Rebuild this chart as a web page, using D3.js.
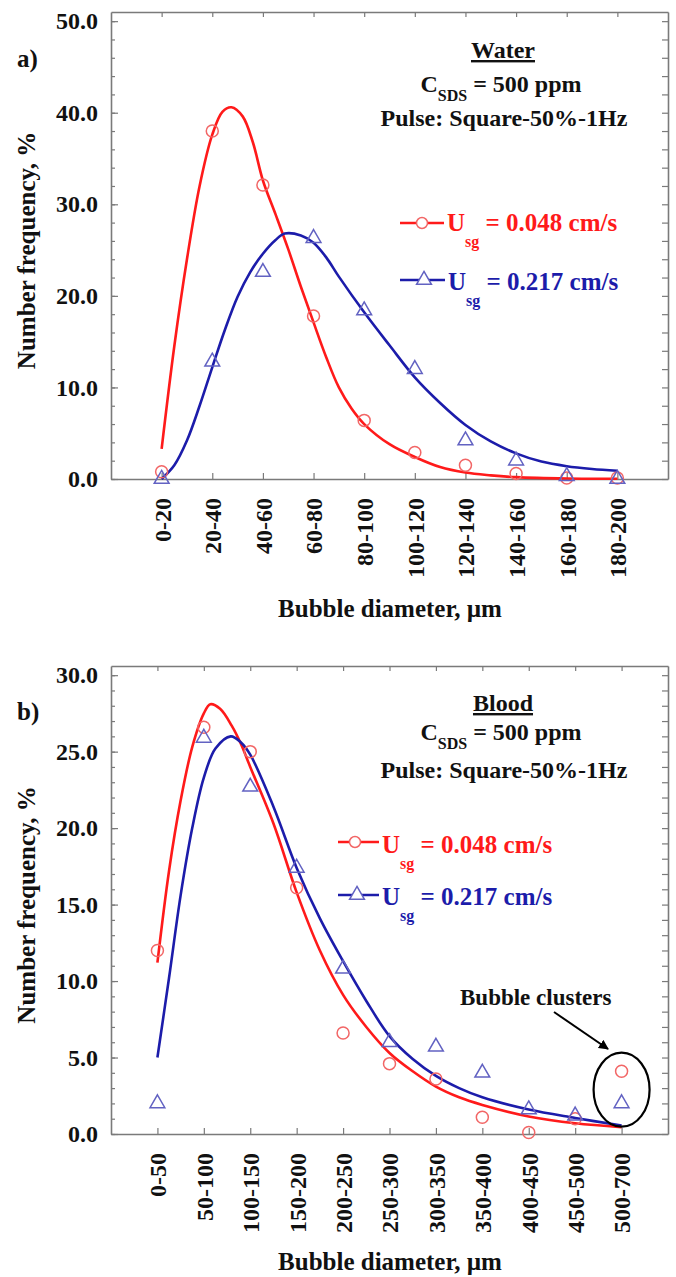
<!DOCTYPE html>
<html>
<head>
<meta charset="utf-8">
<script src="https://cdn.jsdelivr.net/npm/d3@7"></script>
<style>
  body { margin: 0; background: #fff; }
  svg text { font-family: "Liberation Serif", "Times New Roman", serif; font-weight: bold; }
</style>
</head>
<body>
<div id="container"></div>
<script>
// ---- panel a) water ----
const waterBins = ["0-20", "20-40", "40-60", "60-80", "80-100", "100-120", "120-140", "140-160", "160-180", "180-200"];
const waterLow = [0.8, 38.0, 32.1, 17.8, 6.4, 2.9, 1.5, 0.6, 0.1, 0.1];
const waterHigh = [0.0, 12.8, 22.6, 26.3, 18.4, 12.0, 4.2, 2.0, 0.3, 0.0];
// fitted curves, x given in bin units (0 = first bin)
const waterLowFitX = [0, 0.25, 0.5, 0.75, 1, 1.2, 1.38, 1.6, 1.8, 2, 2.25, 2.5, 2.75, 3, 3.25, 3.5, 3.75, 4, 4.5, 5, 5.5, 6, 6.5, 7, 8, 9];
const waterLowFit = [3.3, 14.5, 24.0, 32.0, 37.6, 40.1, 40.6, 39.6, 36.8, 32.6, 28.9, 25.1, 21.0, 17.1, 13.3, 10.0, 7.7, 6.0, 3.8, 2.4, 1.3, 0.7, 0.4, 0.2, 0.05, 0.02];
const waterHighFitX = [0, 0.25, 0.5, 0.75, 1, 1.25, 1.5, 1.75, 2, 2.25, 2.43, 2.75, 3, 3.25, 3.5, 4, 4.5, 5, 5.5, 6, 6.5, 7, 7.5, 8, 8.5, 9];
const waterHighFit = [0, 1.5, 4.2, 8.0, 12.2, 16.3, 19.9, 22.6, 24.6, 26.1, 26.8, 26.6, 25.8, 24.2, 22.1, 18.2, 14.6, 11.1, 8.3, 5.9, 4.1, 2.8, 1.9, 1.4, 1.1, 0.9];

// ---- panel b) blood ----
const bloodBins = ["0-50", "50-100", "100-150", "150-200", "200-250", "250-300", "300-350", "350-400", "400-450", "450-500", "500-700"];
const bloodLow = [12.0, 26.6, 25.0, 16.1, 6.6, 4.6, 3.6, 1.1, 0.1, 1.0, 4.1];
const bloodHigh = [2.0, 25.9, 22.7, 17.4, 10.8, 6.0, 5.7, 4.0, 1.6, 1.2, 2.0];
const bloodLowFitX = [0, 0.25, 0.5, 0.75, 1, 1.14, 1.35, 1.6, 1.8, 2, 2.5, 3, 3.5, 4, 4.5, 5, 5.5, 6, 6.5, 7, 8, 9, 10];
const bloodLowFit = [11.2, 17.2, 21.8, 25.3, 27.5, 28.1, 27.8, 26.7, 25.5, 24.0, 20.3, 15.8, 12.0, 9.1, 7.0, 5.3, 4.1, 3.1, 2.4, 1.9, 1.15, 0.7, 0.45];
const bloodHighFitX = [0, 0.25, 0.5, 0.75, 1, 1.25, 1.58, 1.8, 2, 2.5, 3, 3.5, 4, 4.5, 5, 5.5, 6, 6.5, 7, 8, 9, 10];
const bloodHighFit = [5.0, 10.2, 15.6, 20.0, 23.3, 25.2, 26.0, 25.6, 24.8, 21.4, 17.4, 14.1, 11.3, 8.7, 6.4, 4.9, 3.8, 3.0, 2.4, 1.6, 1.05, 0.55];

const seriesLabels = ["0.048 cm/s", "0.217 cm/s"];

const W = 676, H = 1277;
const xLeft = 111, xRight = 668;
const red = "#ff1a1a", blue = "#1c1caa";
const redMark = "#f26666", blueMark = "#6262c2";
const axisColor = "#7a7a7a";

const svg = d3.select("#container")
    .append("svg")
    .attr("width", W)
    .attr("height", H);

svg.append("defs").append("marker")
    .attr("id", "arrow")
    .attr("viewBox", "0 0 10 10")
    .attr("refX", 9).attr("refY", 5)
    .attr("markerWidth", 5).attr("markerHeight", 5)
    .attr("orient", "auto")
    .append("path")
    .attr("d", "M0,0L10,5L0,10z")
    .attr("fill", "#000");

function drawPanel(p) {
    const n = p.bins.length;
    const x = d3.scaleLinear().domain([-1, n]).range([xLeft, xRight]);
    const y = d3.scaleLinear().domain([0, p.yMax]).range([p.bottom, p.top]);
    const g = svg.append("g");

    const major = d3.range(0, p.yTop + 0.01, p.major);
    const minor = d3.range(0, p.yTop + 0.01, p.minor);

    // left axis with labels
    const left = g.append("g")
        .attr("transform", `translate(${xLeft},0)`)
        .call(d3.axisLeft(y).tickValues(major).tickSizeInner(-7).tickSizeOuter(0)
            .tickPadding(13).tickFormat(d3.format(".1f")));
    g.append("g")
        .attr("transform", `translate(${xLeft},0)`)
        .call(d3.axisLeft(y).tickValues(minor).tickSize(-4).tickFormat(""))
        .select(".domain").remove();

    // right axis, ticks only
    const right = g.append("g")
        .attr("transform", `translate(${xRight},0)`)
        .call(d3.axisRight(y).tickValues(minor).tickSizeInner(-6).tickSizeOuter(0).tickFormat(""));

    // bottom axis with rotated bin labels
    const bottom = g.append("g")
        .attr("transform", `translate(0,${p.bottom})`)
        .call(d3.axisBottom(x).tickValues(d3.range(n)).tickSizeInner(-6).tickSizeOuter(0)
            .tickFormat(i => p.bins[i]));
    bottom.selectAll(".tick text")
        .attr("transform", "rotate(-90)")
        .attr("text-anchor", "end")
        .attr("x", -19)
        .attr("y", 0)
        .attr("dy", "0.35em");

    // top axis, ticks only
    const top = g.append("g")
        .attr("transform", `translate(0,${p.top})`)
        .call(d3.axisTop(x).tickValues(d3.range(n)).tickSizeInner(-5).tickSizeOuter(0).tickFormat(""));

    [left, right, bottom, top].forEach(a => {
        a.select(".domain").attr("stroke", axisColor).attr("stroke-width", 1.6);
    });
    g.selectAll(".tick line").attr("stroke", axisColor).attr("stroke-width", 1.2);
    g.selectAll(".tick text")
        .attr("fill", "#111")
        .style("font-size", "24px")
        .style("font-family", '"Liberation Serif", "Times New Roman", serif')
        .style("font-weight", "bold");

    // fitted curves
    const line = d3.line()
        .x(d => x(d[0]))
        .y(d => y(d[1]))
        .curve(d3.curveCatmullRom.alpha(0.5));

    g.append("path")
        .datum(d3.zip(p.lowFitX, p.lowFit))
        .attr("d", line)
        .attr("fill", "none")
        .attr("stroke", red)
        .attr("stroke-width", 2.6);
    g.append("path")
        .datum(d3.zip(p.highFitX, p.highFit))
        .attr("d", line)
        .attr("fill", "none")
        .attr("stroke", blue)
        .attr("stroke-width", 2.6);

    // measured points
    g.selectAll(".pt-low")
        .data(p.low)
        .enter()
        .append("circle")
        .attr("class", "pt-low")
        .attr("cx", (d, i) => x(i))
        .attr("cy", d => y(d))
        .attr("r", 6)
        .attr("fill", "none")
        .attr("stroke", redMark)
        .attr("stroke-width", 1.5);

    const tri = d3.symbol().type(d3.symbolTriangle).size(95);
    g.selectAll(".pt-high")
        .data(p.high)
        .enter()
        .append("path")
        .attr("class", "pt-high")
        .attr("d", tri)
        .attr("transform", (d, i) => `translate(${x(i)},${y(d)})`)
        .attr("fill", "none")
        .attr("stroke", blueMark)
        .attr("stroke-width", 1.5);

    // y axis title
    g.append("text")
        .attr("transform", `translate(35,${(p.top + p.bottom) / 2 + 5}) rotate(-90)`)
        .attr("text-anchor", "middle")
        .style("font-size", "25px")
        .attr("fill", "#111")
        .text("Number frequency, %");

    // x axis title
    g.append("text")
        .attr("x", 390)
        .attr("y", p.xTitleY)
        .attr("text-anchor", "middle")
        .style("font-size", "25px")
        .attr("fill", "#111")
        .text("Bubble diameter, µm");

    // panel letter
    g.append("text")
        .attr("x", 17)
        .attr("y", p.letterY)
        .style("font-size", "25px")
        .attr("fill", "#111")
        .text(p.letter);

    // condition block
    g.append("text")
        .attr("x", 503)
        .attr("y", p.note[0])
        .attr("text-anchor", "middle")
        .style("font-size", "24px")
        .style("text-decoration", "underline")
        .attr("fill", "#111")
        .text(p.fluid);
    const c = g.append("text")
        .attr("x", 501)
        .attr("y", p.note[1])
        .attr("text-anchor", "middle")
        .style("font-size", "24px")
        .attr("fill", "#111");
    c.append("tspan").text("C");
    c.append("tspan").attr("dy", 9).style("font-size", "16px").text("SDS");
    c.append("tspan").attr("dy", -9).text(" = 500 ppm");
    g.append("text")
        .attr("x", 504)
        .attr("y", p.note[2])
        .attr("text-anchor", "middle")
        .style("font-size", "24px")
        .attr("fill", "#111")
        .text("Pulse: Square-50%-1Hz");

    // legend
    p.legend.forEach((L, k) => {
        const col = k === 0 ? red : blue;
        g.append("line")
            .attr("x1", L.x0).attr("x2", L.x1)
            .attr("y1", L.y).attr("y2", L.y)
            .attr("stroke", col)
            .attr("stroke-width", 2.4);
        if (k === 0) {
            g.append("circle")
                .attr("cx", L.mx).attr("cy", L.y)
                .attr("r", 5.5)
                .attr("fill", "#fff")
                .attr("stroke", redMark)
                .attr("stroke-width", 1.5);
        } else {
            g.append("path")
                .attr("d", tri)
                .attr("transform", `translate(${L.mx},${L.y})`)
                .attr("fill", "#fff")
                .attr("stroke", blueMark)
                .attr("stroke-width", 1.5);
        }
        const t = g.append("text")
            .attr("x", L.tx)
            .attr("y", L.ty)
            .style("font-size", "25px")
            .attr("fill", col);
        t.append("tspan").text("U");
        t.append("tspan").attr("dy", 16).style("font-size", "16px").text("sg");
        t.append("tspan").attr("dy", -16).text(" = " + seriesLabels[k]);
    });

    return { x, y, g };
}

drawPanel({
    bins: waterBins, low: waterLow, high: waterHigh,
    lowFitX: waterLowFitX, lowFit: waterLowFit,
    highFitX: waterHighFitX, highFit: waterHighFit,
    yMax: 51, yTop: 50, major: 10, minor: 2,
    top: 12, bottom: 479,
    xTitleY: 617, letter: "a)", letterY: 67,
    fluid: "Water", note: [58, 92, 126],
    legend: [
        { x0: 400, x1: 444, mx: 422, y: 223, tx: 447, ty: 231 },
        { x0: 400, x1: 445, mx: 424, y: 280, tx: 448, ty: 290 }
    ]
});

const b = drawPanel({
    bins: bloodBins, low: bloodLow, high: bloodHigh,
    lowFitX: bloodLowFitX, lowFit: bloodLowFit,
    highFitX: bloodHighFitX, highFit: bloodHighFit,
    yMax: 30.6, yTop: 30, major: 5, minor: 1,
    top: 666, bottom: 1134,
    xTitleY: 1270, letter: "b)", letterY: 720,
    fluid: "Blood", note: [711, 740, 778],
    legend: [
        { x0: 338, x1: 379, mx: 355, y: 842, tx: 382, ty: 853 },
        { x0: 338, x1: 379, mx: 357, y: 895, tx: 382, ty: 905 }
    ]
});

// bubble cluster callout around the last bin
const lastX = b.x(bloodBins.length - 1);
b.g.append("ellipse")
    .attr("cx", lastX)
    .attr("cy", b.y(2.9))
    .attr("rx", 28)
    .attr("ry", 37)
    .attr("fill", "none")
    .attr("stroke", "#000")
    .attr("stroke-width", 2.2);
b.g.append("text")
    .attr("x", 460)
    .attr("y", 1005)
    .style("font-size", "23px")
    .attr("fill", "#111")
    .text("Bubble clusters");
b.g.append("line")
    .attr("x1", 554).attr("y1", 1012)
    .attr("x2", 608).attr("y2", 1049)
    .attr("stroke", "#000")
    .attr("stroke-width", 2)
    .attr("marker-end", "url(#arrow)");
</script>
</body>
</html>
